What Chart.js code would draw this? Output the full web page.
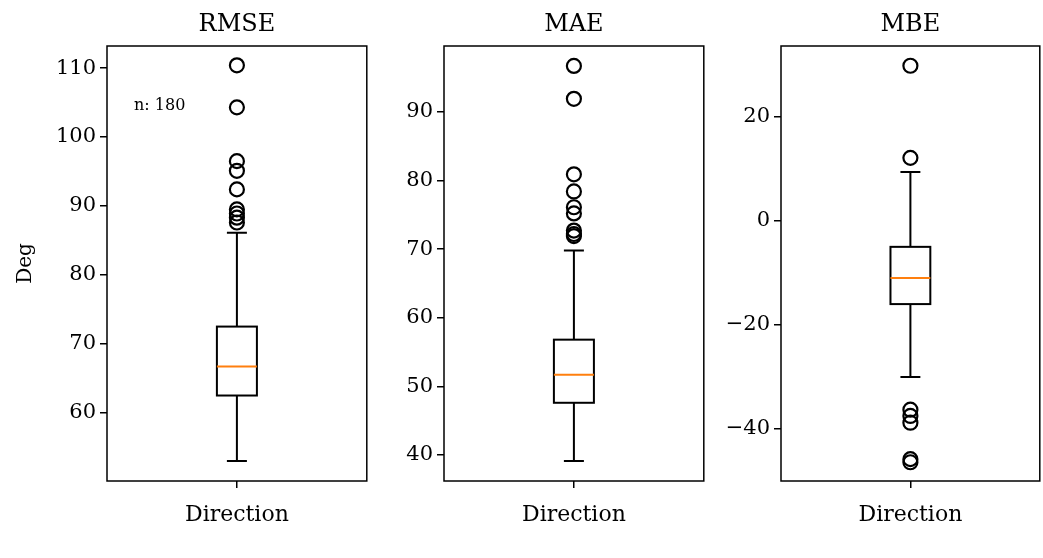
<!DOCTYPE html>
<html>
<head>
<meta charset="utf-8">
<script src="https://cdn.jsdelivr.net/npm/chart.js@4"></script>
<style>
  body { margin: 0; background: #fff; width: 1043px; height: 558px; overflow: hidden; position: relative; }
  canvas { position: absolute; top: 0; }
</style>
</head>
<body>
<canvas id="rmseChart" style="left:0px" width="376" height="558"></canvas>
<canvas id="maeChart" style="left:374px" width="339" height="558"></canvas>
<canvas id="mbeChart" style="left:711px" width="338" height="558"></canvas>
<script>
// box stats: [lower whisker, Q1, median, Q3, upper whisker]
const rmseBox = [53.0, 62.5, 66.7, 72.5, 86.1];
const rmseOutliers = [87.6, 88.3, 88.9, 89.5, 92.4, 95.1, 96.5, 104.3, 110.4];
const rmseTicks = [60, 70, 80, 90, 100, 110];

const maeBox = [39.1, 47.6, 51.7, 56.8, 69.8];
const maeOutliers = [71.9, 72.2, 72.7, 75.2, 76.1, 78.4, 80.9, 91.9, 96.7];
const maeTicks = [40, 50, 60, 70, 80, 90];

const mbeBox = [-30.0, -16.0, -11.0, -5.0, 9.4];
const mbeOutliers = [29.8, 12.1, -36.3, -37.5, -38.8, -45.8, -46.4];
const mbeTicks = [-40, -20, 0, 20];

const categoryLabel = "Direction";
const FONT = "DejaVu Serif";

// draws box, whiskers, frame and title using the chart's own scales
const boxPlugin = {
  id: "boxPlot",
  beforeDatasetsDraw(chart, args, opts) {
    const ctx = chart.ctx;
    const x = chart.scales.x;
    const y = chart.scales.y;
    const [lo, q1, med, q3, hi] = opts.box;
    const boxL = x.getPixelForValue(1 - 0.077);
    const boxR = x.getPixelForValue(1 + 0.077);
    const capL = x.getPixelForValue(1 - 0.0385);
    const capR = x.getPixelForValue(1 + 0.0385);
    const cx = x.getPixelForValue(1);
    ctx.save();
    ctx.strokeStyle = "#000";
    ctx.lineWidth = 2;
    // whiskers
    ctx.beginPath();
    ctx.moveTo(cx, y.getPixelForValue(q1)); ctx.lineTo(cx, y.getPixelForValue(lo));
    ctx.moveTo(cx, y.getPixelForValue(q3)); ctx.lineTo(cx, y.getPixelForValue(hi));
    ctx.moveTo(capL, y.getPixelForValue(lo)); ctx.lineTo(capR, y.getPixelForValue(lo));
    ctx.moveTo(capL, y.getPixelForValue(hi)); ctx.lineTo(capR, y.getPixelForValue(hi));
    ctx.stroke();
    // box
    ctx.strokeRect(boxL, y.getPixelForValue(q3), boxR - boxL, y.getPixelForValue(q1) - y.getPixelForValue(q3));
    // median
    ctx.strokeStyle = "#ff7f0e";
    ctx.beginPath();
    ctx.moveTo(boxL, y.getPixelForValue(med)); ctx.lineTo(boxR, y.getPixelForValue(med));
    ctx.stroke();
    ctx.restore();
  },
  afterDraw(chart, args, opts) {
    const ctx = chart.ctx;
    const a = chart.chartArea;
    ctx.save();
    ctx.strokeStyle = "#000";
    ctx.lineWidth = 1.5;
    ctx.strokeRect(a.left, a.top, a.right - a.left, a.bottom - a.top);
    ctx.fillStyle = "#000";
    ctx.textAlign = "center";
    ctx.textBaseline = "alphabetic";
    ctx.font = "24px '" + FONT + "'";
    ctx.fillText(opts.title, (a.left + a.right) / 2, 31);
    if (opts.note) {
      ctx.font = "16px '" + FONT + "'";
      ctx.textAlign = "left";
      ctx.fillText(opts.note, a.left + 27, 110);
    }
    ctx.restore();
  },
};

const yRange = {
  rmseChart: [50.1, 113.2],
  maeChart: [36.2, 99.6],
  mbeChart: [-50.0, 33.6],
};

function makeChart(id, box, outliers, ticks, title, axisWidth, yTitle, note) {
  return new Chart(id, {
    type: "scatter",
    data: {
      datasets: [{
        data: outliers.map((v) => ({ x: 1, y: v })),
        pointStyle: "circle",
        pointRadius: 7,
        borderColor: "#000",
        borderWidth: 2.2,
        backgroundColor: "rgba(0,0,0,0)",
      }],
    },
    options: {
      responsive: false,
      animation: false,
      layout: { padding: { top: 46, right: 2, bottom: 0, left: 0 } },
      scales: {
        x: {
          type: "linear",
          min: 0.5,
          max: 1.5,
          afterBuildTicks: (s) => { s.ticks = [{ value: 1 }]; },
          afterFit: (s) => { s.height = 77; },
          ticks: { callback: () => categoryLabel, color: "#000", font: { family: FONT, size: 22 }, padding: 14, maxRotation: 0 },
          grid: { display: true, drawOnChartArea: false, tickLength: 7, tickColor: "#000", lineWidth: 1.5 },
          border: { display: false },
        },
        y: {
          type: "linear",
          min: yRange[id][0],
          max: yRange[id][1],
          afterBuildTicks: (s) => { s.ticks = ticks.map((v) => ({ value: v })); },
          afterFit: (s) => { s.width = axisWidth; },
          ticks: { color: "#000", font: { family: FONT, size: 21 }, padding: 4, callback: (v) => (v < 0 ? "\u2212" + Math.abs(v) : v) },
          grid: { display: true, drawOnChartArea: false, tickLength: 7, tickColor: "#000", lineWidth: 1.5 },
          border: { display: false },
          title: { display: !!yTitle, text: yTitle, color: "#000", font: { family: FONT, size: 20 }, padding: { top: 14, bottom: 0 } },
        },
      },
      plugins: {
        legend: { display: false },
        tooltip: { enabled: false },
        boxPlot: { box: box, title: title, note: note },
      },
    },
    plugins: [boxPlugin],
  });
}

makeChart("rmseChart", rmseBox, rmseOutliers, rmseTicks, "RMSE", 107, "Deg", "n: 180");
makeChart("maeChart", maeBox, maeOutliers, maeTicks, "MAE", 70, "", "");
makeChart("mbeChart", mbeBox, mbeOutliers, mbeTicks, "MBE", 70, "", "");
</script>
</body>
</html>
